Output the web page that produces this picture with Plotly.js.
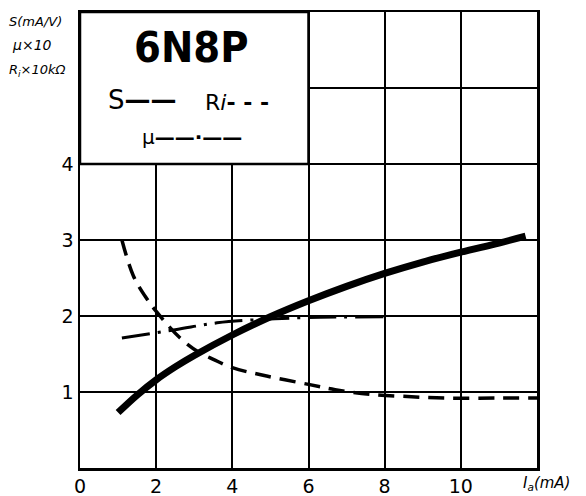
<!DOCTYPE html>
<html>
<head>
<meta charset="utf-8">
<script src="https://cdn.plot.ly/plotly-3.0.1.min.js"></script>
<style>html,body{margin:0;padding:0;background:#fff;}#chart{width:586px;height:496px;}</style>
</head>
<body>
<div id="chart"></div>
<script>
// Anode current Ia (mA) and the three curves of the 6N8P
const iaS = [1, 1.5, 2, 2.5, 3, 4, 5, 6, 7, 8, 9, 10, 11, 11.7];
const sVals = [0.73, 0.96, 1.16, 1.33, 1.48, 1.75, 1.99, 2.2, 2.39, 2.56, 2.71, 2.84, 2.96, 3.05];

const iaRi = [1.1, 1.4, 1.75, 2.05, 2.63, 3.1, 3.5, 4, 4.9, 6, 6.7, 7.6, 8.6, 9.6, 11, 12];
const riVals = [3.0, 2.53, 2.23, 2.03, 1.71, 1.53, 1.43, 1.32, 1.21, 1.1, 1.03, 0.97, 0.94, 0.92, 0.92, 0.92];

const iaMu = [1.1, 2.5, 3.6, 4.6, 6, 8];
const muVals = [1.71, 1.82, 1.91, 1.95, 1.98, 1.99];

const xTickVals = [0, 2, 4, 6, 8, 10];
const xTickText = ['0', '2', '4', '6', '8', '10'];
const yTickVals = [1, 2, 3, 4];
const yTickText = ['1', '2', '3', '4'];
const yUpperGrid = [5];

const FONT = 'DejaVu Sans, Liberation Sans, sans-serif';

const traces = [
  {x: iaRi, y: riVals, mode: 'lines', line: {color: '#000', width: 3.5, dash: '16px,9px', shape: 'spline'}, hoverinfo: 'skip'},
  {x: iaMu, y: muVals, mode: 'lines', line: {color: '#000', width: 3, dash: '28px,8px,3px,8px', shape: 'spline'}, hoverinfo: 'skip'},
  {x: iaS, y: sVals, mode: 'lines', line: {color: '#000', width: 7, shape: 'spline'}, hoverinfo: 'skip'}
];

const layout = {
  width: 586, height: 496,
  margin: {l: 80, r: 49, t: 12, b: 28},
  paper_bgcolor: '#fff', plot_bgcolor: '#fff',
  showlegend: false,
  font: {family: FONT, color: '#000'},
  xaxis: {
    range: [0, 12], tickvals: xTickVals, ticktext: xTickText,
    showgrid: true, gridcolor: '#000', gridwidth: 2,
    showline: true, mirror: true, linecolor: '#000', linewidth: 2.5,
    zeroline: false, ticks: '', fixedrange: true,
    tickfont: {family: FONT, size: 19, color: '#000'}
  },
  yaxis: {
    range: [0, 6], tickvals: yTickVals, ticktext: yTickText,
    showgrid: true, gridcolor: '#000', gridwidth: 2,
    minor: {tickvals: yUpperGrid, showgrid: true, gridcolor: '#000', gridwidth: 2, ticks: ''},
    showline: true, mirror: true, linecolor: '#000', linewidth: 2.5,
    zeroline: false, ticks: '', fixedrange: true,
    tickfont: {family: FONT, size: 19, color: '#000'}
  },
  shapes: [
    {type: 'rect', xref: 'x', yref: 'y', x0: 0, x1: 6, y0: 4, y1: 6,
     fillcolor: '#fff', line: {color: '#000', width: 2.5}, layer: 'above'}
  ],
  annotations: [
    {text: '<b>6N8P</b>', xref: 'paper', yref: 'paper', x: (191 - 80) / 457, y: 1 - (47 - 12) / 456,
     xanchor: 'center', yanchor: 'middle', showarrow: false,
     font: {family: 'DejaVu Sans Condensed, Liberation Sans Narrow, DejaVu Sans, sans-serif', size: 43, color: '#000'}},
    {text: 'S<b>——</b>', xref: 'paper', yref: 'paper', x: (106 - 80) / 457, y: 1 - (100 - 12) / 456,
     xanchor: 'left', yanchor: 'middle', showarrow: false,
     font: {family: FONT, size: 26, color: '#000'}},
    {text: 'R<i>i</i><b>- - -</b>', xref: 'paper', yref: 'paper', x: (203 - 80) / 457, y: 1 - (102 - 12) / 456,
     xanchor: 'left', yanchor: 'middle', showarrow: false,
     font: {family: FONT, size: 22, color: '#000'}},
    {text: 'μ<b>——·——</b>', xref: 'paper', yref: 'paper', x: (140 - 80) / 457, y: 1 - (137 - 12) / 456,
     xanchor: 'left', yanchor: 'middle', showarrow: false,
     font: {family: FONT, size: 20, color: '#000'}},
    {text: '<i>S(mA/V)</i>', xref: 'paper', yref: 'paper', x: -73 / 457, y: 1 - (22 - 12) / 456,
     xanchor: 'left', yanchor: 'middle', showarrow: false,
     font: {family: FONT, size: 13, color: '#000'}},
    {text: '<i>μ×10</i>', xref: 'paper', yref: 'paper', x: -70 / 457, y: 1 - (45 - 12) / 456,
     xanchor: 'left', yanchor: 'middle', showarrow: false,
     font: {family: FONT, size: 14, color: '#000'}},
    {text: '<i>R<sub>i</sub>×10kΩ</i>', xref: 'paper', yref: 'paper', x: -73 / 457, y: 1 - (70 - 12) / 456,
     xanchor: 'left', yanchor: 'middle', showarrow: false,
     font: {family: FONT, size: 13, color: '#000'}},
    {text: '<i>I<sub>a</sub>(mA)</i>', xref: 'paper', yref: 'paper', x: (521 - 80) / 457, y: -(483 - 468) / 456,
     xanchor: 'left', yanchor: 'middle', showarrow: false,
     font: {family: FONT, size: 15, color: '#000'}}
  ]
};

Plotly.newPlot('chart', traces, layout, {displayModeBar: false, staticPlot: true});
</script>
</body>
</html>
